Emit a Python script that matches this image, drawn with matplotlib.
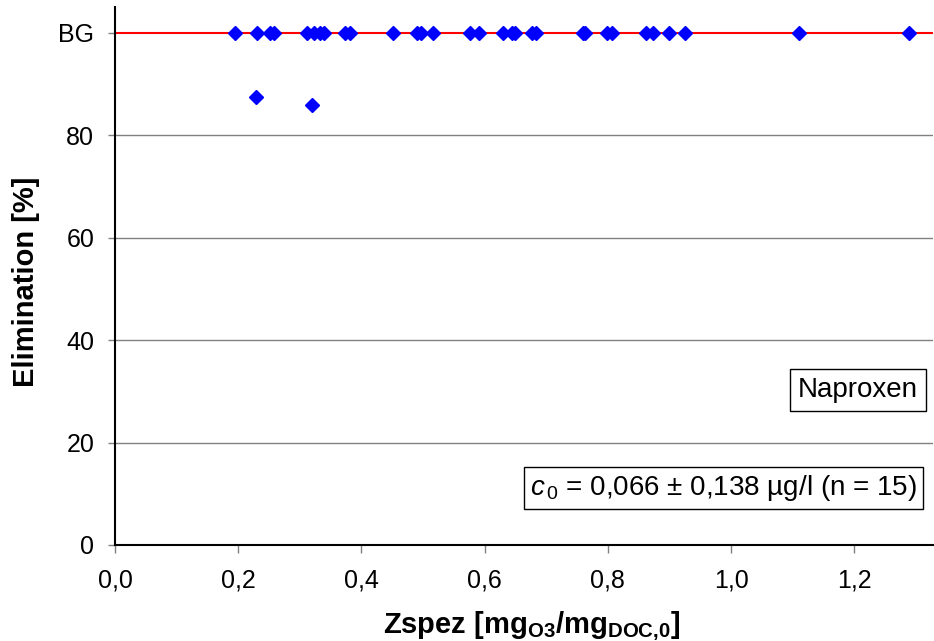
import matplotlib
matplotlib.use("Agg")
import matplotlib.pyplot as plt

plt.rcParams["font.family"] = ["Liberation Sans", "DejaVu Sans"]
plt.rcParams["mathtext.fontset"] = "custom"
plt.rcParams["mathtext.rm"] = "Liberation Sans"
plt.rcParams["mathtext.it"] = "Liberation Sans:italic"
plt.rcParams["mathtext.bf"] = "Liberation Sans:bold"

# Data
zspez_bg = [0.195, 0.231, 0.252, 0.258, 0.311, 0.323, 0.333, 0.339, 0.373, 0.381,
            0.451, 0.490, 0.497, 0.516, 0.576, 0.591, 0.630, 0.644, 0.649, 0.677,
            0.683, 0.760, 0.763, 0.799, 0.807, 0.862, 0.873, 0.899, 0.925, 1.110, 1.289]
elim_bg = [100] * len(zspez_bg)
zspez_meas = [0.229, 0.320]
elim_meas = [87.4, 85.8]

bg_level = 100
yticks = [0, 20, 40, 60, 80, 100]
yticklabels = ["0", "20", "40", "60", "80", "BG"]
xticks = [0.0, 0.2, 0.4, 0.6, 0.8, 1.0, 1.2]
xticklabels = ["0,0", "0,2", "0,4", "0,6", "0,8", "1,0", "1,2"]

fig = plt.figure(figsize=(9.34, 6.41), dpi=100)
ax = fig.add_axes([0.1231, 0.1498, 0.8759, 0.8393])

# horizontal grid lines
for y in yticks[1:-1]:
    ax.axhline(y, color="#808080", linewidth=1, zorder=1)
ax.axhline(bg_level, color="red", linewidth=1.5, zorder=2)

ax.plot(zspez_bg, elim_bg, linestyle="none", marker="D", markersize=7,
        color="blue", zorder=3, clip_on=False)
ax.plot(zspez_meas, elim_meas, linestyle="none", marker="D", markersize=7,
        color="blue", zorder=3)

ax.set_xlim(0, 1.328)
ax.set_ylim(0, 105)
ax.set_xticks(xticks)
ax.set_xticklabels(xticklabels, fontsize=18)
ax.set_yticks(yticks)
ax.set_yticklabels(yticklabels, fontsize=18)
ax.tick_params(axis="x", direction="out", length=6, width=1, color="#808080", pad=11)
ax.tick_params(axis="y", direction="out", length=5, width=1, color="#808080", pad=10)
ax.get_yticklines()[-2].set_color("red")

for side in ["top", "right"]:
    ax.spines[side].set_visible(False)
ax.spines["left"].set_linewidth(1.5)
ax.spines["bottom"].set_linewidth(1.5)

ax.set_ylabel("Elimination [%]", fontsize=21, fontweight="bold")
ax.yaxis.set_label_coords(-0.092, 0.49)
ax.set_xlabel(r"Zspez [mg$_{\mathbf{O3}}$/mg$_{\mathbf{DOC{,}0}}$]", fontsize=21,
              fontweight="bold")
ax.xaxis.set_label_coords(0.51, -0.1636)
ax.xaxis.label.set_va("baseline")

ax.text(0.9817, 0.288, "Naproxen", transform=ax.transAxes, fontsize=20,
        ha="right", va="center",
        bbox=dict(boxstyle="square,pad=0.3", facecolor="white", edgecolor="black", linewidth=1))
ax.text(0.980, 0.106, r"$\mathit{c}_{\,0}$ = 0,066 ± 0,138 µg/l (n = 15)",
        transform=ax.transAxes, fontsize=20, ha="right", va="center",
        bbox=dict(boxstyle="square,pad=0.22", facecolor="white", edgecolor="black", linewidth=1))

fig.savefig("out.png", dpi=100)
